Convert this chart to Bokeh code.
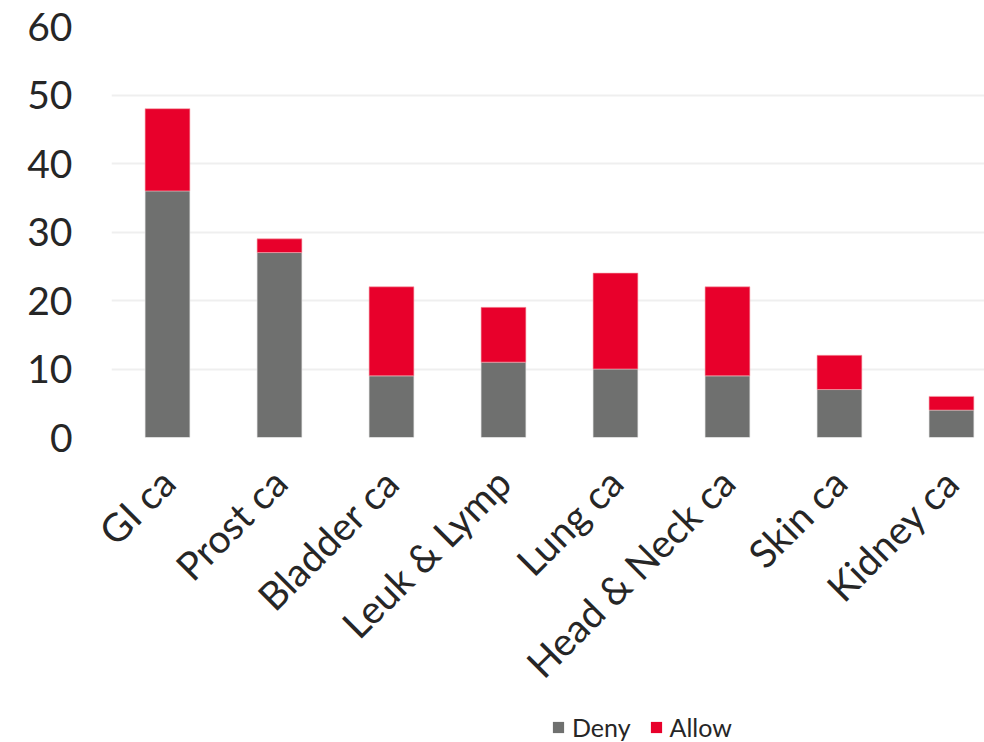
import math
from bokeh.plotting import figure
from bokeh.layouts import column
from bokeh.models import ColumnDataSource, Range1d, FixedTicker, Legend, LegendItem
from bokeh.embed import file_html
from bokeh.resources import INLINE

categories = ["GI ca", "Prost ca", "Bladder ca", "Leuk & Lymp", "Lung ca",
              "Head & Neck ca", "Skin ca", "Kidney ca"]
deny = [36, 27, 9, 11, 10, 9, 7, 4]
allow = [12, 2, 13, 8, 14, 13, 5, 2]
y_ticks = [0, 10, 20, 30, 40, 50, 60]
series_names = ["Deny", "Allow"]
series_colors = ["#6F706F", "#E8002B"]

xs = list(range(len(categories)))
src = ColumnDataSource(dict(x=xs, deny=deny, allow=allow,
                            top=[d + a for d, a in zip(deny, allow)]))

FONT = "Lato"
TEXT = "#262626"

p = figure(width=984, height=712, output_backend="svg",
           toolbar_location=None, x_range=Range1d(-0.5, 7.295),
           y_range=Range1d(0, 60), min_border_left=111, min_border_top=26,
           min_border_right=0, min_border_bottom=275)
p.outline_line_color = None
p.background_fill_color = "white"
p.border_fill_color = "white"

p.vbar(x="x", bottom=0, top="deny", width=0.4, source=src,
       fill_color=series_colors[0], line_color="#E0E0E0", line_width=0.6)
p.vbar(x="x", bottom="deny", top="top", width=0.4, source=src,
       fill_color=series_colors[1], line_color="#F5A0A8", line_width=0.6)

# axes
p.xaxis.ticker = FixedTicker(ticks=xs)
p.xaxis.major_label_overrides = {i: c for i, c in enumerate(categories)}
p.xaxis.major_label_orientation = math.pi / 4
p.xaxis.major_label_text_font = FONT
p.xaxis.major_label_text_font_size = "39px"
p.xaxis.major_label_text_color = TEXT
p.xaxis.major_label_standoff = 38
p.xaxis.major_tick_out = 0
p.xaxis.axis_line_color = None
p.xaxis.major_tick_line_color = None
p.xaxis.minor_tick_line_color = None

p.yaxis.ticker = FixedTicker(ticks=y_ticks)
p.yaxis.major_label_text_font = FONT
p.yaxis.major_label_text_font_size = "39px"
p.yaxis.major_label_text_color = TEXT
p.yaxis.major_label_standoff = 39
p.yaxis.major_tick_out = 0
p.yaxis.axis_line_color = None
p.yaxis.major_tick_line_color = None
p.yaxis.minor_tick_line_color = None

p.xgrid.grid_line_color = None
p.ygrid.grid_line_color = "#EFEFEF"
p.ygrid.grid_line_width = 2

# legend strip below the chart (hidden copies of the series supply the keys)
lg = figure(width=984, height=30, output_backend="svg", toolbar_location=None,
            x_axis_type=None, y_axis_type=None, x_range=Range1d(0, 1),
            y_range=Range1d(0, 1), min_border_left=0, min_border_right=0,
            min_border_top=0, min_border_bottom=0)
lg.outline_line_color = None
lg.grid.visible = False
items = []
for name, col, field in zip(series_names, series_colors, ["deny", "allow"]):
    r = lg.vbar(x="x", top=field, width=0.4, source=src,
                fill_color=col, line_color=None, visible=False)
    items.append(LegendItem(label=name, renderers=[r]))
legend = Legend(items=items, orientation="horizontal", location=(440, 0),
                label_text_font=FONT, label_text_font_size="25px",
                label_text_color=TEXT, glyph_width=14, glyph_height=14,
                label_standoff=7, spacing=18, border_line_color=None,
                background_fill_alpha=0, inactive_fill_alpha=0,
                padding=4, margin=0)
lg.add_layout(legend, "center")

layout = column(p, lg, spacing=0)
open("out.html", "w").write(file_html(layout, INLINE))
